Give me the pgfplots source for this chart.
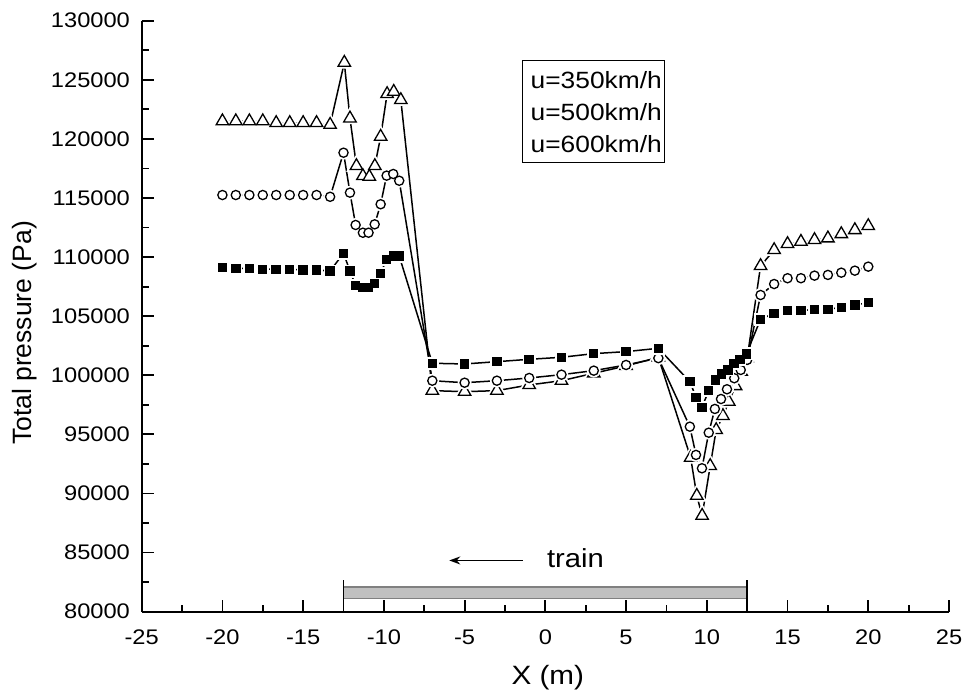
\documentclass[border=0pt]{standalone}
\usepackage{fontspec}
\setmainfont{Liberation Sans}
\usepackage{graphicx}
\usepackage{pgfplots}
\usepackage{pgfplotstable}
\pgfplotsset{compat=1.18}
\usetikzlibrary{arrows.meta}
\definecolor{bargray}{RGB}{192,192,192}
\definecolor{bardark}{RGB}{128,128,128}
\newcommand{\hs}[1]{\scalebox{1.12}[1]{#1}}
% u = 350 km/h
\pgfplotstableread{
x y
-20 109100
-19.17 109050
-18.33 109050
-17.5 108970
-16.67 108970
-15.83 108970
-15 108910
-14.17 108910
-13.33 108820
-12.5 110320
-12.1 108820
-11.75 107580
-11.3 107440
-10.95 107440
-10.57 107780
-10.2 108630
-9.83 109810
-9.42 110090
-9.05 110090
-7 101015
-5 100955
-3 101150
-1 101350
1 101520
3 101830
5 102000
7 102280
8.95 99460
9.33 98140
9.7 97290
10.12 98700
10.52 99600
10.9 100110
11.3 100450
11.68 101015
12.05 101350
12.45 101800
13.33 104740
14.17 105245
15 105465
15.83 105465
16.67 105580
17.5 105580
18.33 105750
19.17 105950
20 106140
}\tA
% u = 500 km/h
\pgfplotstableread{
x y
-20 115250
-19.17 115250
-18.33 115250
-17.5 115250
-16.67 115250
-15.83 115250
-15 115250
-14.17 115250
-13.33 115100
-12.5 118830
-12.1 115450
-11.75 112715
-11.3 112060
-10.95 112060
-10.57 112770
-10.2 114470
-9.83 116890
-9.42 117030
-9.05 116460
-7 99540
-5 99370
-3 99540
-1 99770
1 100050
3 100390
5 100870
7 101450
8.95 95650
9.33 93260
9.7 92130
10.12 95140
10.5 97150
10.88 97990
11.25 98815
11.7 99750
12.1 100450
12.5 101300
13.33 106790
14.17 107720
15 108210
15.83 108210
16.67 108430
17.5 108490
18.33 108680
19.17 108850
20 109190
}\tB
% u = 600 km/h
\pgfplotstableread{
x y
-20 121500
-19.17 121500
-18.33 121500
-17.5 121500
-16.67 121350
-15.83 121350
-15 121350
-14.17 121350
-13.33 121200
-12.45 126450
-12.1 121740
-11.7 117710
-11.3 116860
-10.9 116800
-10.56 117710
-10.2 120190
-9.8 123800
-9.39 123990
-8.95 123290
-7 98700
-5 98610
-3 98700
-1 99180
1 99540
3 100170
5 100790
7 101520
9.0 93030
9.38 89810
9.71 88120
10.21 92330
10.58 95370
11.0 96560
11.36 97770
11.78 99090
12.13 100300
12.5 101440
13.33 109250
14.17 110600
15 111110
15.83 111300
16.67 111450
17.5 111590
18.33 111950
19.17 112290
20 112630
}\tC
\begin{document}
\begin{tikzpicture}
\begin{axis}[
  at={(0,0)}, anchor=south west,
  scale only axis, width=403.7bp, height=295.5bp,
  xmin=-25, xmax=25, ymin=80000, ymax=130000,
  axis x line*=bottom, axis y line*=left,
  axis line style={line width=1bp, black},
  xtick={-25,-20,-15,-10,-5,0,5,10,15,20,25},
  xticklabels={\hs{-25},\hs{-20},\hs{-15},\hs{-10},\hs{-5},\hs{0},\hs{5},\hs{10},\hs{15},\hs{20},\hs{25}},
  ytick={80000,85000,90000,95000,100000,105000,110000,115000,120000,125000,130000},
  yticklabels={\hs{80000},\hs{85000},\hs{90000},\hs{95000},\hs{100000},\hs{105000},\hs{110000},\hs{115000},\hs{120000},\hs{125000},\hs{130000}},
  minor x tick num=1, minor y tick num=1,
  tick align=inside,
  major tick length=6bp, minor tick length=3.5bp,
  every tick/.style={line width=0.9bp, black},
  scaled y ticks=false,
  ticklabel style={font=\fontsize{10.6}{12}\selectfont},
  yticklabel style={inner sep=0pt, xshift=-5.7bp},
  xticklabel style={inner sep=0pt, yshift=-9.1bp},
  xlabel={\hs{X (m)}},
  ylabel={Total pressure (Pa)},
  xlabel style={font=\fontsize{13.3}{15}\selectfont, at={(axis description cs:0.503,-0.1113)}, anchor=center},
  ylabel style={font=\fontsize{13.3}{15}\selectfont, at={(axis description cs:-0.1445,0.4716)}, anchor=center},
  clip=false,
]
% train bar
\addplot[fill=bargray, draw=bardark, line width=0.8bp] coordinates {(-12.5,81100) (12.5,81100) (12.5,82100) (-12.5,82100)} -- cycle;
\addplot[black, line width=0.8bp] coordinates {(-12.5,80000) (-12.5,82700)};
\addplot[black, line width=0.8bp] coordinates {(12.5,80000) (12.5,82700)};
% u=600 : line, white gap around symbols, symbols
\addplot[black, line width=0.75bp, no marks] table {\tC};
\addplot[only marks, mark=triangle*, mark size=5.4bp, mark options={fill=white, draw=white, line width=0.5bp}] table {\tC};
\addplot[only marks, mark=triangle*, mark size=3.6bp, mark options={fill=white, draw=black, line width=0.65bp}] table {\tC};
% u=500
\addplot[black, line width=0.75bp, no marks] table {\tB};
\addplot[only marks, mark=*, mark size=3.2bp, mark options={fill=white, draw=white, line width=0.5bp}] table {\tB};
\addplot[only marks, mark=*, mark size=2.3bp, mark options={fill=white, draw=black, line width=0.65bp}] table {\tB};
% u=350
\addplot[black, line width=0.75bp, no marks] table {\tA};
\addplot[only marks, mark=square*, mark size=3.0bp, mark options={fill=white, draw=white, line width=0.5bp}] table {\tA};
\addplot[only marks, mark=square*, mark size=2.1bp, mark options={fill=black, draw=black, line width=0.5bp}] table {\tA};
% annotations
\draw[black, line width=0.8bp, -{Stealth[length=5.5bp,width=4bp]}] (axis cs:-1.4,84330) -- (axis cs:-5.95,84330);
\node[anchor=base west, inner sep=0pt, font=\fontsize{13.1}{15}\selectfont] at (axis cs:0.08,83700) {\hs{train}};
% legend box (text only, as in the reference)
\draw[black, line width=0.7bp] (axis cs:-1.423,126632) rectangle (axis cs:7.383,117985);
\node[anchor=base west, inner sep=0pt, font=\fontsize{11.8}{14}\selectfont] at (axis cs:-0.93,124280) {\hs{u=350km/h}};
\node[anchor=base west, inner sep=0pt, font=\fontsize{11.8}{14}\selectfont] at (axis cs:-0.93,121556) {\hs{u=500km/h}};
\node[anchor=base west, inner sep=0pt, font=\fontsize{11.8}{14}\selectfont] at (axis cs:-0.93,118832) {\hs{u=600km/h}};
\end{axis}
\pgfresetboundingbox
\path (-70.85bp,-43.65bp) rectangle (412.2bp,305.85bp);
\end{tikzpicture}
\end{document}
